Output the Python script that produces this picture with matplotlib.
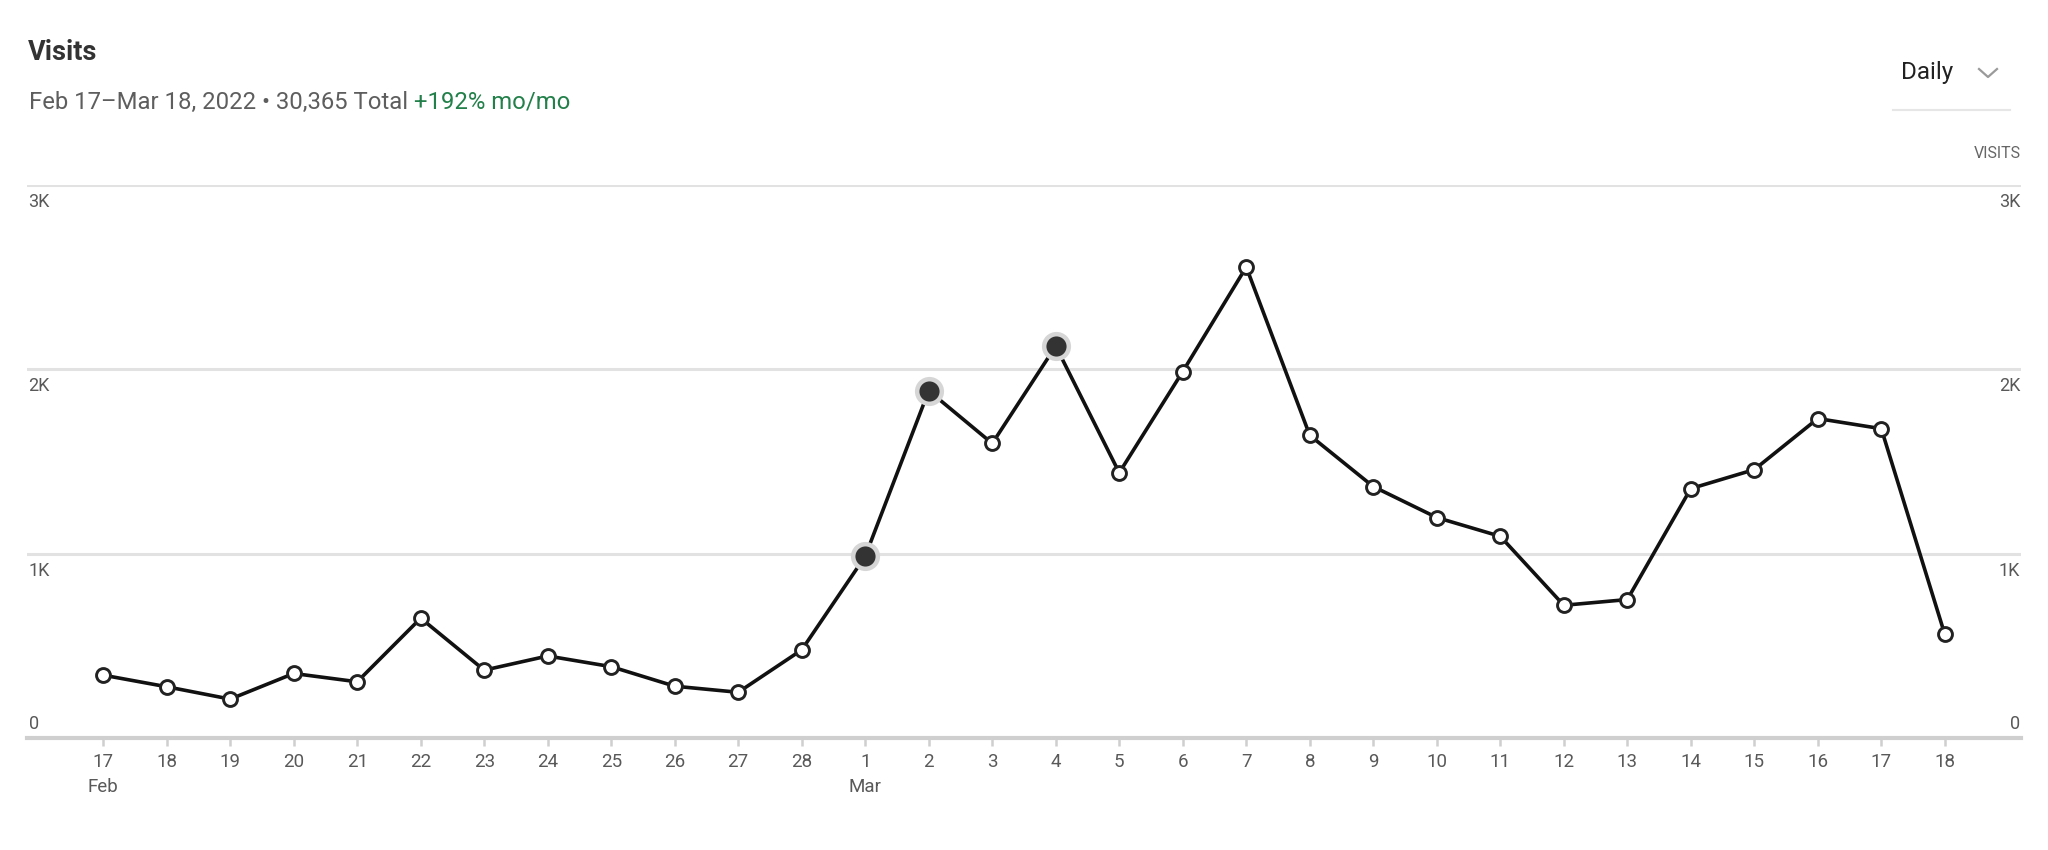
import numpy as np
import matplotlib.pyplot as plt
from matplotlib.lines import Line2D

plt.rcParams['font.family'] = ['Roboto', 'DejaVu Sans']

# daily visits, Feb 17 - Mar 18 2022
day_labels = ['17', '18', '19', '20', '21', '22', '23', '24', '25', '26', '27', '28',
              '1', '2', '3', '4', '5', '6', '7', '8', '9', '10', '11', '12', '13',
              '14', '15', '16', '17', '18']
month_labels = ['Feb', '', '', '', '', '', '', '', '', '', '', '',
                'Mar', '', '', '', '', '', '', '', '', '', '', '', '',
                '', '', '', '', '']
visits = [341, 278, 211, 350, 305, 650, 368, 445, 387, 281, 248, 478,
          986, 1884, 1598, 2126, 1439, 1988, 2555, 1642, 1364, 1196, 1094, 720, 751,
          1353, 1456, 1733, 1678, 562]
highlight = [12, 13, 15]   # Mar 1, Mar 2, Mar 4
y_ticks = [0, 1000, 2000, 3000]
y_tick_labels = ['0', '1K', '2K', '3K']

W, H = 2048, 850
fig = plt.figure(figsize=(W / 100, H / 100), dpi=100)
ax = fig.add_axes([27 / W, 1 - 738 / H, (2021 - 27) / W, (738 - 185) / H])

x = np.arange(len(visits))
y = np.array(visits)

ax.plot(x, y, color='#111111', lw=2.6, zorder=3, solid_joinstyle='round')
ax.plot(x, y, 'o', ms=10, mfc='white', mec='#222222', mew=2.1, zorder=4)
hx = x[highlight]
hy = y[highlight]
ax.scatter(hx, hy, s=21 ** 2, color='#d6d6d6', zorder=5, linewidths=0)
ax.scatter(hx, hy, s=14.5 ** 2, color='#333333', zorder=6, linewidths=0)

ax.set_xlim(-1.2, len(visits) - 1 + 1.2)
ax.set_ylim(0, 3000)

for v in y_ticks[1:]:
    ax.axhline(v, color='#e2e2e2', lw=2.2, zorder=1)

for s in ['top', 'left', 'right']:
    ax.spines[s].set_visible(False)
ax.spines['bottom'].set_color('#cfcfcf')
ax.spines['bottom'].set_linewidth(3)

ax.set_yticks([])
ticklabs = [d + ('\n' + m if m else '') for d, m in zip(day_labels, month_labels)]
ax.set_xticks(x)
ax.set_xticklabels(ticklabs, fontsize=13.5, color='#595959', linespacing=1.5, va='top')
ax.tick_params(axis='x', length=6, width=1.8, color='#cfcfcf', pad=5)

# y labels on both sides
tr = ax.get_yaxis_transform()
for v, lab in zip(y_ticks, y_tick_labels):
    if v == 0:
        off, va = 5, 'bottom'
    else:
        off, va = -8, 'top'
    ax.annotate(lab, xy=(0, v), xycoords=tr, xytext=(1.5, off), textcoords='offset pixels',
                ha='left', va=va, fontsize=13, color='#595959')
    ax.annotate(lab, xy=(1, v), xycoords=tr, xytext=(-1, off), textcoords='offset pixels',
                ha='right', va=va, fontsize=13, color='#595959')

# header
fig.text(28 / W, 1 - 52 / H, 'Visits', fontsize=19.5, fontweight='bold', color='#333333', va='center')
t1 = fig.text(29 / W, 1 - 109 / H, 'Feb 17\u2013Mar 18, 2022 \u2022 30,365 Total', fontsize=17.2,
              color='#5e5e5e', va='baseline')
fig.canvas.draw()
bb = t1.get_window_extent()
fig.text((bb.x1 + 6) / W, 1 - 109 / H, '+192% mo/mo', fontsize=17.2, color='#23804a', va='baseline')

fig.text(1901 / W, 1 - 72 / H, 'Daily', fontsize=17.5, color='#222222', va='center')
fig.add_artist(Line2D([1979 / W, 1988 / W, 1997 / W], [1 - 69 / H, 1 - 77 / H, 1 - 69 / H],
                      color='#9a9a9a', lw=1.6))
fig.add_artist(Line2D([1893 / W, 2010 / W], [1 - 110 / H, 1 - 110 / H], color='#e6e6e6', lw=1.5))
fig.text(2021 / W, 1 - 154 / H, 'VISITS', fontsize=11.5, color='#666666', ha='right', va='center')

fig.savefig('out.png', dpi=100, facecolor='white')
